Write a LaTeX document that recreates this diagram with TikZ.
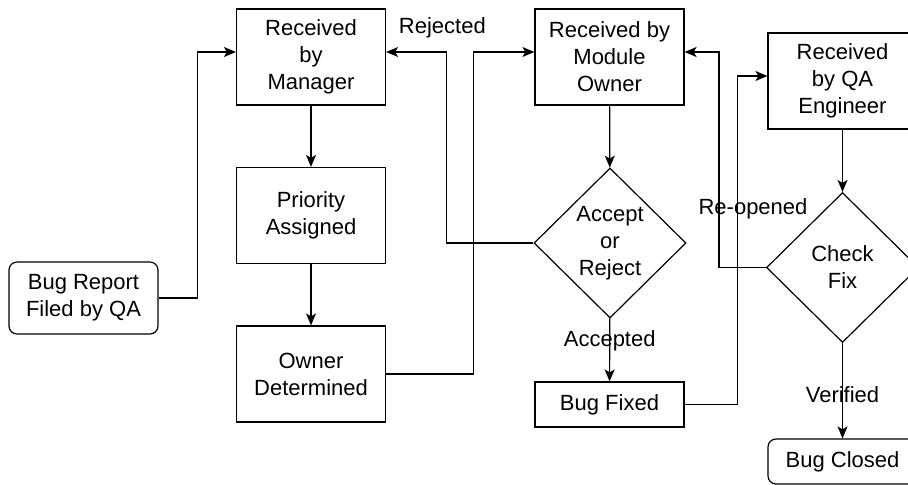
\documentclass[tikz,border=0pt]{standalone}
\usepackage{fontspec}
\setmainfont{Liberation Sans}
\usetikzlibrary{shapes.geometric, arrows.meta}
\tikzset{
	stage/.style = {draw, minimum width = 74.5pt, minimum height = 48pt, align = center, inner sep = 1pt},
	terminal/.style = {draw, rounded corners = 4pt, minimum width = 74.5pt, align = center, inner sep = 1pt},
	decision/.style = {draw, diamond, aspect = 1, minimum width = 76pt, minimum height = 75pt, align = center, inner sep = 0pt},
	flow/.style = {-{Stealth[length = 6pt, width = 5pt, inset = 1.5pt]}}
}
\begin{document}
\begin{tikzpicture}[x = 0.5pt, y = -0.5pt, line width = 0.6pt, font = \fontsize{11}{13.5}\selectfont]
		\useasboundingbox (0,0) rectangle (908,484);
		\node [terminal, minimum height = 36pt] (report) at (83.5,298) {Bug Report\\Filed by QA};
		\node [stage] (manager) at (311,57) {Received\\by\\Manager};
		\node [stage] (priority) at (311,215.5) {Priority\\Assigned};
		\node [stage] (owner) at (311,374) {Owner\\Determined};
		\node [stage] (module) at (609.5,57) {Received by\\Module\\Owner};
		\node [decision] (accept) at (610,243) {Accept\\or\\Reject};
		\node [stage, minimum height = 22.5pt] (fixed) at (609.5,404.5) {Bug Fixed};
		\node [stage] (qa) at (842.5,81) {Received\\by QA\\Engineer};
		\node [decision] (check) at (842.5,267.5) {Check\\Fix};
		\node [terminal, minimum height = 22.5pt] (closed) at (842.5,461.5) {Bug Closed};
		\draw [flow] (report.east) -- ++(39,0) |- ([yshift = 2.5pt]manager.west);
		\draw [flow] (manager) -- (priority);
		\draw [flow] (priority) -- (owner);
		\draw [flow] (owner.east) -- ++(87,0) |- ([yshift = 2.5pt]module.west);
		\draw [flow] (module) -- (accept);
		\draw [flow] (accept.west) -- ++(-87,0) |- node [pos = 0.5, xshift = -2pt, yshift = 12pt] {Rejected} ([yshift = 2.5pt]manager.east);
		\draw [flow] (accept) -- node [pos = 0.36] {Accepted} (fixed);
		\draw [flow] (fixed.east) -- ++(53,0) |- ([yshift = 2.5pt]qa.west);
		\draw [flow] (qa) -- (check);
		\draw [flow] (check.west) -- ++(-47,0) |- ([yshift = 2.5pt]module.east);
		\node (reopened) at (753,209) {Re-opened};
		\draw [flow] (check) -- node [pos = 0.54] {Verified} (closed);
		%\draw [dashed] (0,0) rectangle (908,484);
	\end{tikzpicture}
\end{document}
